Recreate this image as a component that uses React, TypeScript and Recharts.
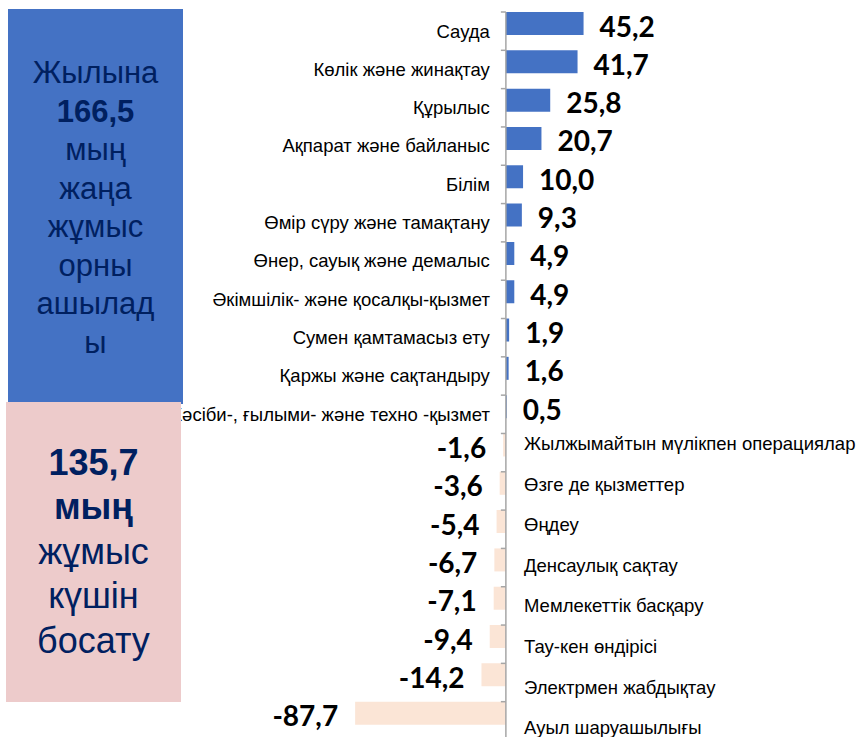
import React from 'react'
import { BarChart, Bar, XAxis, YAxis, Cell, LabelList, ReferenceLine } from 'recharts'

const categories = [
  'Сауда',
  'Көлік және жинақтау',
  'Құрылыс',
  'Ақпарат және байланыс',
  'Білім',
  'Өмір сүру және тамақтану',
  'Өнер, сауық және демалыс',
  'Әкімшілік- және қосалқы-қызмет',
  'Сумен қамтамасыз ету',
  'Қаржы және сақтандыру',
  'Кәсіби-, ғылыми- және техно -қызмет',
  'Жылжымайтын мүлікпен операциялар',
  'Өзге де қызметтер',
  'Өңдеу',
  'Денсаулық сақтау',
  'Мемлекеттік басқару',
  'Тау-кен өндірісі',
  'Электрмен жабдықтау',
  'Ауыл шаруашылығы',
]

const values = [45.2, 41.7, 25.8, 20.7, 10.0, 9.3, 4.9, 4.9, 1.9, 1.6, 0.5, -1.6, -3.6, -5.4, -6.7, -7.1, -9.4, -14.2, -87.7]

const openedLines = ['Жылына', '166,5', 'мың', 'жаңа', 'жұмыс', 'орны', 'ашылад', 'ы']
const releasedLines = ['135,7', 'мың', 'жұмыс', 'күшін', 'босату']

const data = categories.map((name, i) => ({ name, value: values[i] }))
const negativeNames = categories.filter((_, i) => values[i] < 0)

const fmt = (v: number) => v.toFixed(1).replace('.', ',')

const AXIS = '#A6A6A6'
const POS = '#4472C4'
const NEG = '#FBE5D6'
const NAVY = '#002060'
const CAT_FONT = 18.5

function BarLabel(props: any) {
  const { index, value } = props
  const vb = props.viewBox || props
  const x = vb.x
  const y = vb.y
  const w = vb.width
  const h = vb.height
  const left = Math.min(x, x + w)
  const right = Math.max(x, x + w)
  const neg = value < 0
  const zero = neg ? right : left
  const end = neg ? left : right
  return (
    <g>
      <line x1={zero - 5} x2={zero} y1={y} y2={y} stroke={AXIS} strokeWidth={1.5} />
      <text
        x={neg ? end - 17 : end + 16}
        y={y + h / 2 + 2}
        textAnchor={neg ? 'end' : 'start'}
        dominantBaseline="central"
        fontFamily="Lato"
        fontWeight={700}
        fontSize={28}
        fill="#000"
      >
        {fmt(value)}
      </text>
      {!neg && (
        <text
          x={zero - 16}
          y={y + 19}
          textAnchor="end"
          dominantBaseline="central"
          fontFamily="Liberation Sans, Arial"
          fontSize={CAT_FONT}
          fill="#000"
        >
          {categories[index]}
        </text>
      )}
    </g>
  )
}

export default function App() {
  return (
    <div style={{ position: 'relative', width: 861, height: 737, background: '#fff' }}>
      <style>{'body{margin:0;overflow:hidden}'}</style>
      <BarChart
        layout="vertical"
        width={861}
        height={745}
        data={data}
        margin={{ top: 12, right: 252, bottom: 5, left: 334 }}
        barCategoryGap={0}
        barGap={0}
      >
        <XAxis type="number" domain={[-100, 60]} hide />
        <YAxis type="category" dataKey="name" hide />
        <ReferenceLine x={0} stroke={AXIS} strokeWidth={1.5} />
        <Bar dataKey="value" barSize={23} isAnimationActive={false}>
          {data.map((d, i) => (
            <Cell key={i} fill={d.value < 0 ? NEG : POS} />
          ))}
          <LabelList dataKey="value" content={BarLabel} />
        </Bar>
        <Bar dataKey="pad" barSize={15} isAnimationActive={false} />
      </BarChart>

      <div
        style={{
          position: 'absolute',
          left: 524,
          top: 424,
          fontFamily: 'Liberation Sans, Arial',
          fontSize: CAT_FONT,
          lineHeight: '40.6px',
          color: '#000',
          whiteSpace: 'nowrap',
        }}
      >
        {negativeNames.map((n) => (
          <div key={n}>{n}</div>
        ))}
      </div>

      <div
        style={{
          position: 'absolute',
          left: 8,
          top: 9,
          width: 175,
          height: 395,
          background: POS,
          display: 'flex',
          flexDirection: 'column',
          alignItems: 'center',
          justifyContent: 'center',
          fontFamily: 'Liberation Sans, Arial',
          fontSize: 31,
          lineHeight: '38.5px',
          color: NAVY,
          paddingTop: 3,
          boxSizing: 'border-box',
        }}
      >
        {openedLines.map((t, i) => (
          <div key={i} style={{ fontWeight: i === 1 ? 700 : 400 }}>{t}</div>
        ))}
      </div>

      <div
        style={{
          position: 'absolute',
          left: 6,
          top: 402,
          width: 175,
          height: 300,
          background: '#EDCBCB',
          display: 'flex',
          flexDirection: 'column',
          alignItems: 'center',
          justifyContent: 'center',
          fontFamily: 'Liberation Sans, Arial',
          fontSize: 36,
          lineHeight: '44.6px',
          color: NAVY,
        }}
      >
        {releasedLines.map((t, i) => (
          <div key={i} style={{ fontWeight: i < 2 ? 700 : 400 }}>{t}</div>
        ))}
      </div>
    </div>
  )
}
